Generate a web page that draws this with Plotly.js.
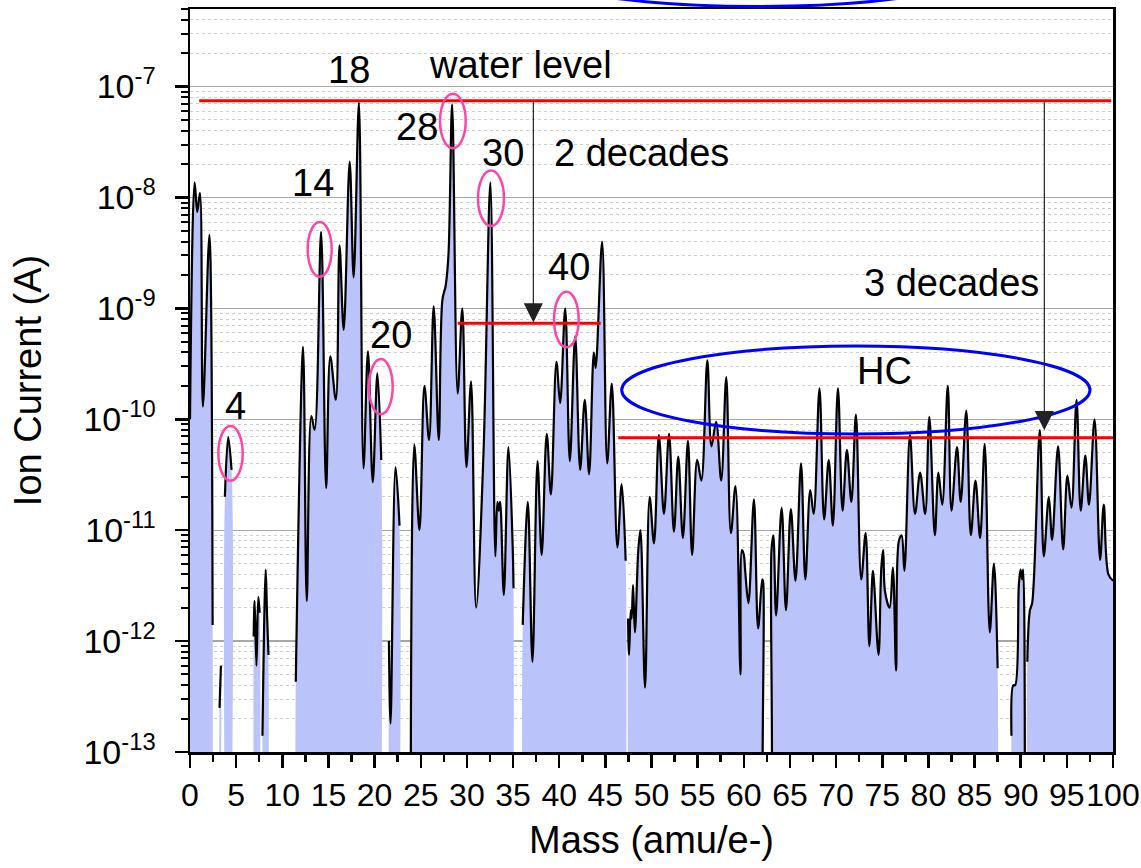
<!DOCTYPE html>
<html>
<head>
<meta charset="utf-8">
<script src="https://cdn.plot.ly/plotly-3.0.1.min.js"></script>
<style>
html,body{margin:0;padding:0;background:#fff;}
#chart{width:1141px;height:868px;}
</style>
</head>
<body>
<div id="chart"></div>
<script>
// ---- Mass spectrum (null = no signal / not drawn) ----
const mass = [
  0, 0.5, 0.79, 1.08, 1.4, 2.1, 2.45, 2.5,
  3.15, 3.2, 3.35, 3.4, 3.73, 3.78, 4.14, 4.5,
  4.55, 6.85, 6.9, 7.0, 7.2, 7.4, 7.55, 7.6,
  7.8, 7.85, 8.2, 8.35, 8.5, 8.55, 11.4,
  11.46, 12.25, 12.65, 13.15, 13.5, 14.2, 14.75, 15.2,
  15.8, 16.2, 16.65, 17.3, 17.73, 18.3, 18.8, 19.28,
  19.8, 20.3, 20.72, 20.75, 21.5, 21.55, 21.73, 22.27,
  22.7, 22.75, 23.85,
  23.9, 24.3, 24.86, 25.4, 25.9, 26.4, 26.95, 27.35,
  27.7, 28.0, 28.4, 29.0, 29.5, 29.95, 30.45, 31.0,
  31.8, 32.54, 33.08, 33.3, 33.45, 33.6, 34.0, 34.5,
  34.95, 35.05, 35.1, 36.0,
  36.05, 36.6, 37.1, 37.65, 38.1, 38.65, 39.1, 39.7,
  40.1, 40.65, 41.15, 41.73, 42.27, 42.77, 43.24, 43.75,
  43.95, 44.65, 45.2, 45.7, 46.3, 46.77, 47.2, 47.25,
  47.4,
  47.46, 47.57, 47.75, 47.85, 48.0, 48.2, 48.57, 48.8,
  49.3, 49.8, 50.27, 50.8, 51.35, 51.9, 52.43, 52.9,
  53.4, 53.95, 54.4, 54.95, 55.4, 56.05, 56.5, 57.0,
  57.55, 58.1, 58.6, 59.1, 59.64, 59.8, 60.0, 60.15,
  60.5, 61.1, 61.55, 62.0, 62.1, 62.4,
  62.63, 63.0, 63.2, 63.5, 64.1, 64.57, 65.1, 65.6,
  66.2, 66.67, 67.2, 67.57, 68.2, 68.7, 69.2, 69.65,
  70.2, 70.7, 71.17, 71.65, 72.15, 72.72, 73.2, 73.6,
  73.98, 74.1, 74.6, 74.9, 75.1, 75.3, 75.8, 76.15,
  76.5, 76.8, 77.1, 77.4, 78.0, 78.55, 79.1, 79.65,
  80.1, 80.7, 81.08, 81.5, 82.1, 82.5, 83.1, 83.5,
  84.1, 84.6, 85.1, 85.6, 86.1, 86.65, 87.1, 87.5,
  87.55, 88.95,
  89.0, 89.2, 89.4, 89.8, 89.98, 90.15, 90.27, 90.45,
  90.5, 90.65, 90.72, 91.0, 91.24, 92.07, 92.5, 93.05,
  93.4, 94.05, 94.6, 95.06, 95.5, 96.05, 96.5, 97.0,
  97.4, 98.0, 98.6, 99.0, 99.5, 100
];
const current = [
  1e-10, 1.37e-8, 7.4e-9, 1.1e-8, 1.3e-10, 4.6e-9, 1.4e-12, null,
  null, 2.5e-13, 6e-13, null, null, 2e-11, 6.9e-11, 3.5e-11,
  null, null, 1.1e-12, 2.3e-12, 6e-13, 2.5e-12, 1.8e-12, null,
  null, 1.4e-13, 4.4e-12, 1.7e-12, 7.5e-13, null, null,
  4.3e-13, 4.5e-10, 2.3e-12, 1.07e-10, 8e-11, 4.9e-9, 2.4e-11, 3.7e-10,
  1.5e-10, 3.7e-9, 6.4e-10, 2.1e-8, 1.9e-9, 7.2e-8, 3.6e-11, 4.1e-10,
  2.7e-11, 2.6e-10, 4.3e-11, null, null, 1e-12, 1.8e-13, 3.7e-11,
  1.1e-11, null, null,
  1e-14, 5.9e-11, 1e-11, 2e-10, 6.5e-11, 1.04e-9, 6.5e-11, 1.2e-9,
  1.6e-9, 3e-9, 6.9e-8, 1.7e-10, 1e-9, 3.7e-11, 2.2e-10, 2e-12,
  5e-11, 1.37e-8, 5.8e-12, 1.8e-11, 1.5e-11, 1.8e-11, 2.6e-12, 5.6e-11,
  7.6e-12, 3e-12, null, null,
  1.4e-12, 1.8e-11, 6.5e-13, 4.2e-11, 6e-12, 7.4e-11, 2.1e-11, 3.3e-10,
  1.4e-10, 1e-9, 4.2e-11, 5.6e-10, 3.5e-11, 1.5e-10, 3.2e-11, 4e-10,
  2.9e-10, 4e-9, 4e-11, 2.1e-10, 7e-12, 2.6e-11, 5.3e-12, null,
  null,
  1.6e-12, 7.5e-13, 1.9e-12, 1.6e-12, 3.2e-12, 1.2e-12, 6.6e-12, 1e-11,
  3.8e-13, 2e-11, 7.6e-12, 7.2e-11, 1.4e-11, 7.4e-11, 9.7e-12, 4.6e-11,
  8.5e-12, 6.4e-11, 6e-12, 4.3e-11, 2.8e-11, 3.4e-10, 5.7e-11, 9.5e-11,
  2.8e-11, 2.4e-10, 9.4e-12, 2.5e-11, 5e-13, 6.6e-12, 6e-12, 4.3e-12,
  2.2e-12, 1.9e-11, 1.3e-12, 3.6e-12, 3.4e-12, 1e-14,
  1e-14, 6.6e-12, 9e-12, 1.7e-12, 1.6e-11, 1.9e-12, 1.55e-11, 3.5e-12,
  4e-11, 3.6e-12, 2.3e-11, 1.4e-11, 1.9e-10, 1.25e-11, 4.3e-11, 1.1e-11,
  1.9e-10, 1.5e-11, 5.3e-11, 1.8e-11, 1.1e-10, 3.6e-12, 9.4e-12, 9e-13,
  4.3e-12, 3.5e-12, 7.5e-13, 4.6e-12, 6.6e-12, 2.8e-12, 2e-12, 4.6e-12,
  5.4e-13, 8e-12, 9e-12, 4.3e-12, 7.2e-11, 1.4e-11, 3.3e-11, 1.4e-11,
  1.05e-10, 9e-12, 3.3e-11, 1.7e-11, 2e-10, 1.5e-11, 5.6e-11, 1.8e-11,
  1.2e-10, 9e-12, 2.8e-11, 8.5e-12, 6e-11, 1.2e-12, 5e-12, 5.7e-13,
  null, null,
  1.4e-13, 4e-13, 4e-13, 3.2e-12, 4.4e-12, 3.6e-12, 4.4e-12, 1e-14,
  null, null, 6.5e-13, 1.9e-12, 2.2e-12, 8e-11, 5.8e-12, 2e-11,
  8.2e-12, 5.7e-11, 6.7e-12, 3.1e-11, 1.6e-11, 1.5e-10, 1.5e-11, 4.7e-11,
  1.7e-11, 1e-10, 5.4e-12, 1.7e-11, 4e-12, 3.5e-12
];
if (mass.length !== current.length) {
  throw new Error('length mismatch ' + mass.length + ' vs ' + current.length);
}

// ---- Axis ticks ----
const xTickVals = [0,5,10,15,20,25,30,35,40,45,50,55,60,65,70,75,80,85,90,95,100];
const yTickVals = [1e-13,1e-12,1e-11,1e-10,1e-9,1e-8,1e-7];
const yTickText = ['10<sup>-13</sup>','10<sup>-12</sup>','10<sup>-11</sup>','10<sup>-10</sup>',
                   '10<sup>-9</sup>','10<sup>-8</sup>','10<sup>-7</sup>'];
const yTop = 5e-7;

// reference levels drawn as red lines
const waterLevel = 7.43e-8;
const level2dec = 7.33e-10;
const level3dec = 6.81e-11;

const FONT = 'Liberation Sans, Arial, Helvetica, sans-serif';
const FLOOR = 1e-14;   // below the visible range, used to close the fill

const minorVals = [];
for (let e = -13; e <= -7; e++) {
  for (let d = 2; d <= 9; d++) {
    const v = d * Math.pow(10, e);
    if (v <= yTop * 1.0001) minorVals.push(v);
  }
}

// split the spectrum at missing values; each piece is filled down to the axis
const segments = [];
let seg = null;
for (let i = 0; i < mass.length; i++) {
  if (current[i] === null) { if (seg) { segments.push(seg); seg = null; } continue; }
  if (!seg) seg = {x: [], y: []};
  seg.x.push(mass[i]); seg.y.push(current[i]);
}
if (seg) segments.push(seg);

const traces = [];
segments.forEach(s => {
  traces.push({
    x: [s.x[0]].concat(s.x, [s.x[s.x.length - 1]]),
    y: [FLOOR].concat(s.y, [FLOOR]),
    mode: 'lines', fill: 'toself', fillcolor: 'rgb(187,195,251)',
    line: {width: 0, color: 'rgba(0,0,0,0)', shape: 'spline', smoothing: 1},
    hoverinfo: 'skip', showlegend: false
  });
});
traces.push({ x: mass, y: current, mode: 'lines', connectgaps: false,
  line: {color: '#000000', width: 2.2, shape: 'spline', smoothing: 1}, showlegend: false });

const L = v => Math.log10(v);
const txt = (x, y, t) => ({x: x, y: y, xref: 'x', yref: 'y', text: t, showarrow: false,
  font: {family: FONT, size: 38, color: '#000'}, xanchor: 'center', yanchor: 'middle'});
const arrow = (x, yFrom, yTo) => ({x: x, y: L(yTo), ax: x, ay: L(yFrom), xref: 'x', yref: 'y',
  axref: 'x', ayref: 'y', text: '', showarrow: true, arrowhead: 2, arrowsize: 3.2,
  arrowwidth: 1.2, arrowcolor: '#222', standoff: 0, startstandoff: 0});

const pink = {color: '#ff45a8', width: 2.5};
const ell = (x0, x1, y0, y1, line) => ({type: 'circle', xref: 'x', yref: 'y',
  x0: x0, x1: x1, y0: y0, y1: y1, line: line, layer: 'above'});
const hline = (x0, x1, y) => ({type: 'line', xref: 'x', yref: 'y', x0: x0, x1: x1,
  y0: y, y1: y, line: {color: '#ff0000', width: 3}, layer: 'above'});

const layout = {
  width: 1141, height: 868,
  margin: {l: 190, r: 28, t: 9, b: 116, pad: 0},
  paper_bgcolor: '#ffffff', plot_bgcolor: '#ffffff',
  font: {family: FONT, color: '#000'},
  showlegend: false,
  xaxis: {
    range: [0, 100], tickmode: 'array', tickvals: xTickVals, tickangle: 0,
    ticks: 'outside', ticklen: 13, tickwidth: 2.5, tickcolor: '#000',
    ticklabeloverflow: 'allow', ticklabelstandoff: 0,
    tickfont: {family: FONT, size: 32, color: '#000'},
    showline: true, linecolor: '#000', linewidth: 2.5, mirror: true,
    showgrid: false, zeroline: false,
    minor: {tick0: 0, dtick: 2.5, ticks: 'outside', ticklen: 7, tickwidth: 2.5, tickcolor: '#000', showgrid: false},
    title: {text: 'Mass (amu/e-)', font: {family: FONT, size: 38, color: '#000'}, standoff: 15}
  },
  yaxis: {
    type: 'log', range: [-13, Math.log10(yTop)],
    tickmode: 'array', tickvals: yTickVals, ticktext: yTickText,
    ticks: 'outside', ticklen: 13, tickwidth: 2.5, tickcolor: '#000',
    ticklabelstandoff: 12,
    tickfont: {family: FONT, size: 34, color: '#000'},
    showline: true, linecolor: '#000', linewidth: 2.5, mirror: true,
    showgrid: true, gridcolor: '#a6a6a6', gridwidth: 1.2, zeroline: false,
    minor: {tickmode: 'array', tickvals: minorVals, ticks: 'outside', ticklen: 7, tickwidth: 2,
            tickcolor: '#000', showgrid: true, gridcolor: '#cfcfcf', gridwidth: 1, griddash: '3px,3px'},
    title: {text: 'Ion Current (A)', font: {family: FONT, size: 38, color: '#000'}, standoff: 30}
  },
  shapes: [
    hline(1.0, 99.8, waterLevel),
    hline(29.0, 44.5, level2dec),
    hline(46.4, 100.4, level3dec),
    ell(3.07, 5.71, 2.79e-11, 8.68e-11, pink),
    ell(12.75, 15.35, 1.93e-9, 6.01e-9, pink),
    ell(19.39, 21.96, 1.11e-10, 3.49e-10, pink),
    ell(27.09, 29.87, 2.78e-8, 8.59e-8, pink),
    ell(31.20, 34.02, 5.53e-9, 1.746e-8, pink),
    ell(39.44, 42.11, 4.45e-10, 1.414e-9, pink),
    ell(46.77, 97.51, 7.35e-11, 4.57e-10, {color: '#0000ff', width: 3}),
    {type: 'circle', xref: 'paper', yref: 'paper', x0: 0.376, x1: 0.8527, y0: 1.0034, y1: 1.0976,
     line: {color: '#0000ff', width: 3}, layer: 'above'}
  ],
  annotations: [
    txt(17.23, -6.854, '18'),
    txt(35.81, -6.802, 'water level'),
    txt(24.56, -7.364, '28'),
    txt(13.33, -7.869, '14'),
    txt(33.91, -7.598, '30'),
    txt(48.94, -7.598, '2 decades'),
    txt(41.06, -8.627, '40'),
    txt(82.45, -8.767, '3 decades'),
    txt(21.78, -9.236, '20'),
    txt(75.19, -9.565, 'HC'),
    txt(4.88, -9.876, '4'),
    arrow(37.2, waterLevel, 7.45e-10),
    arrow(92.56, waterLevel, 7.98e-11)
  ]
};

Plotly.newPlot('chart', traces, layout, {staticPlot: true, displayModeBar: false});
</script>
</body>
</html>
